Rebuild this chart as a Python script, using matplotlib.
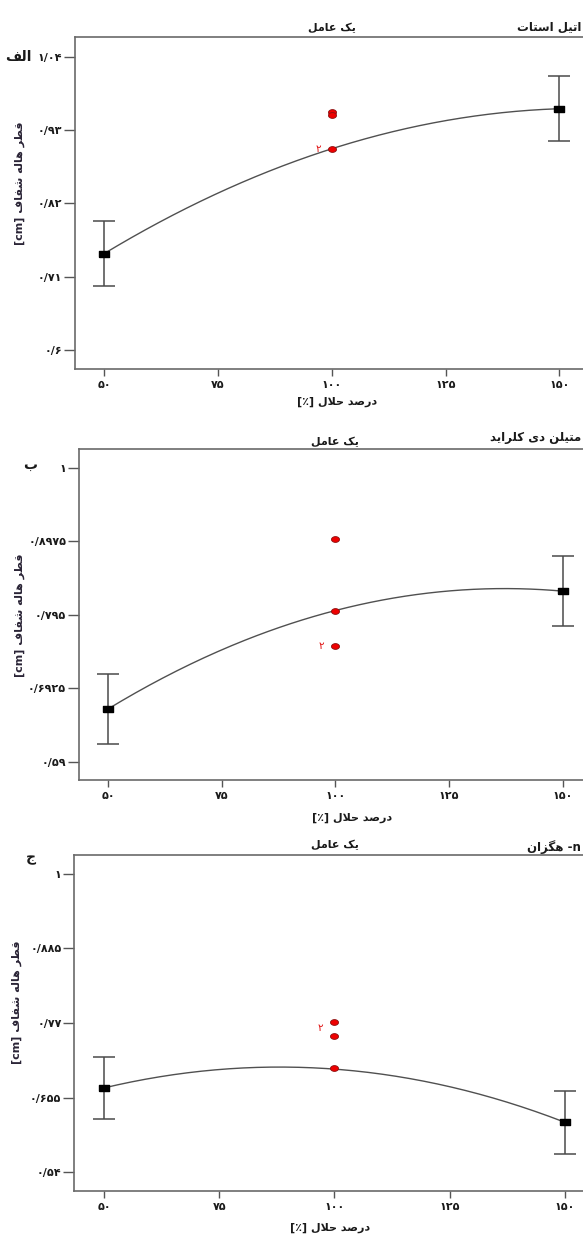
import numpy as np
import matplotlib
matplotlib.use("Agg")
import matplotlib.pyplot as plt
from matplotlib.transforms import blended_transform_factory

plt.rcParams['font.family'] = ['DejaVu Sans']

# ---------------------------------------------------------------------------
# Data: clear-zone diameter (cm) vs. solvent percentage, one-factor plots
# ---------------------------------------------------------------------------
solvent_levels = [50, 100, 150]
end_levels = [50, 150]
x_ticks = [50, 75, 100, 125, 150]
x_tick_labels = ['۵۰', '۷۵', '۱۰۰', '۱۲۵', '۱۵۰']

# (a) ethyl acetate
ea_pred = [0.745, 0.902, 0.962]          # model prediction at 50, 100, 150
ea_ci = [0.049, 0.049]                   # half-width of interval at 50, 150
ea_center_runs = [0.957, 0.952, 0.902]   # centre-point observations
ea_center_counts = [1, 1, 2]
ea_yticks = [1.04, 0.93, 0.82, 0.71, 0.60]
ea_yticklabels = ['۱/۰۴', '۰/۹۳', '۰/۸۲', '۰/۷۱', '۰/۶']

# (b) methylene chloride
mc_pred = [0.664, 0.801, 0.828]
mc_ci = [0.049, 0.049]
mc_center_runs = [0.901, 0.801, 0.751]
mc_center_counts = [1, 1, 2]
mc_yticks = [1.0, 0.8975, 0.795, 0.6925, 0.59]
mc_yticklabels = ['۱', '۰/۸۹۷۵', '۰/۷۹۵', '۰/۶۹۲۵', '۰/۵۹']

# (c) n-hexane
hx_pred = [0.670, 0.699, 0.617]
hx_ci = [0.048, 0.049]
hx_center_runs = [0.771, 0.7505, 0.701]
hx_center_counts = [2, 1, 1]
hx_yticks = [1.0, 0.885, 0.77, 0.655, 0.54]
hx_yticklabels = ['۱', '۰/۸۸۵', '۰/۷۷', '۰/۶۵۵', '۰/۵۴']

solvent_names = ['اتیل استات', 'متیلن دی کلراید', 'n- هگزان']
panel_letters = ['الف', 'ب', 'ج']
factor_title = 'یک عامل'
y_title = 'قطر هاله شفاف [cm]'
x_title = 'درصد حلال [٪]'

# ---------------------------------------------------------------------------
# Minimal Persian shaping + right-to-left ordering for matplotlib text
# ---------------------------------------------------------------------------
FORMS = {  # isolated, final, initial, medial
    'ا': ('\uFE8D', '\uFE8E', None, None),
    'ب': ('\uFE8F', '\uFE90', '\uFE91', '\uFE92'),
    'ت': ('\uFE95', '\uFE96', '\uFE97', '\uFE98'),
    'ج': ('\uFE9D', '\uFE9E', '\uFE9F', '\uFEA0'),
    'ح': ('\uFEA1', '\uFEA2', '\uFEA3', '\uFEA4'),
    'د': ('\uFEA9', '\uFEAA', None, None),
    'ر': ('\uFEAD', '\uFEAE', None, None),
    'ز': ('\uFEAF', '\uFEB0', None, None),
    'س': ('\uFEB1', '\uFEB2', '\uFEB3', '\uFEB4'),
    'ش': ('\uFEB5', '\uFEB6', '\uFEB7', '\uFEB8'),
    'ص': ('\uFEB9', '\uFEBA', '\uFEBB', '\uFEBC'),
    'ط': ('\uFEC1', '\uFEC2', '\uFEC3', '\uFEC4'),
    'ع': ('\uFEC9', '\uFECA', '\uFECB', '\uFECC'),
    'ف': ('\uFED1', '\uFED2', '\uFED3', '\uFED4'),
    'ق': ('\uFED5', '\uFED6', '\uFED7', '\uFED8'),
    'ل': ('\uFEDD', '\uFEDE', '\uFEDF', '\uFEE0'),
    'م': ('\uFEE1', '\uFEE2', '\uFEE3', '\uFEE4'),
    'ن': ('\uFEE5', '\uFEE6', '\uFEE7', '\uFEE8'),
    'ه': ('\uFEE9', '\uFEEA', '\uFEEB', '\uFEEC'),
    'ک': ('\uFB8E', '\uFB8F', '\uFB90', '\uFB91'),
    'گ': ('\uFB92', '\uFB93', '\uFB94', '\uFB95'),
    'ی': ('\uFBFC', '\uFBFD', '\uFBFE', '\uFBFF'),
}
LAM_ALEF = ('\uFEFB', '\uFEFC')
LTR_CHARS = set('abcdefghijklmnopqrstuvwxyzABCDEFGHIJKLMNOPQRSTUVWXYZ'
                '0123456789۰۱۲۳۴۵۶۷۸۹./')
MIRROR = {'[': ']', ']': '[', '(': ')', ')': '('}


def shape(text):
    out, i, n = [], 0, len(text)
    prev_joins = False
    while i < n:
        c = text[i]
        if c not in FORMS:
            out.append(c)
            prev_joins = False
            i += 1
            continue
        nxt = text[i + 1] if i + 1 < n else ''
        if c == 'ل' and nxt == 'ا':
            out.append(LAM_ALEF[1] if prev_joins else LAM_ALEF[0])
            prev_joins = False
            i += 2
            continue
        iso, fin, ini, med = FORMS[c]
        next_joins = ini is not None and nxt in FORMS
        if prev_joins and next_joins:
            out.append(med)
        elif prev_joins:
            out.append(fin)
        elif next_joins:
            out.append(ini)
        else:
            out.append(iso)
        prev_joins = next_joins
        i += 1
    return ''.join(out)


def rtl(text):
    s = shape(text)[::-1]
    res, run = [], []
    for ch in s:
        if ch in LTR_CHARS:
            run.append(ch)
        else:
            res.extend(reversed(run))
            run = []
            res.append(MIRROR.get(ch, ch))
    res.extend(reversed(run))
    return ''.join(res)


# ---------------------------------------------------------------------------
# Layout (pixel geometry of each panel on a 583 x 1239 canvas)
# ---------------------------------------------------------------------------
W, H = 583, 1239
fig = plt.figure(figsize=(W / 100, H / 100), dpi=100)


def fx(px):
    return px / W


def fy(py):
    return 1 - py / H


panels = [
    dict(pred=ea_pred, ci=ea_ci, runs=ea_center_runs, counts=ea_center_counts,
         yticks=ea_yticks, yticklabels=ea_yticklabels,
         box=(74.7, 37.3, 583, 369), xlim=(43.5, 155.2), ylim=(0.572, 1.069),
         name_y=27, title_y=28, letter_xy=(18, 57),
         ylab_xy=(20, 183), xlab_xy=(337, 402), count_dy=0),
    dict(pred=mc_pred, ci=mc_ci, runs=mc_center_runs, counts=mc_center_counts,
         yticks=mc_yticks, yticklabels=mc_yticklabels,
         box=(78.7, 449, 583, 780.3), xlim=(43.5, 154.5), ylim=(0.5645, 1.026),
         name_y=438, title_y=442, letter_xy=(30, 465),
         ylab_xy=(20, 615), xlab_xy=(352, 818), count_dy=0),
    dict(pred=hx_pred, ci=hx_ci, runs=hx_center_runs, counts=hx_center_counts,
         yticks=hx_yticks, yticklabels=hx_yticklabels,
         box=(74, 854.7, 583, 1190.7), xlim=(43.5, 153.9), ylim=(0.5117, 1.0293),
         name_y=847, title_y=845, letter_xy=(31, 858),
         ylab_xy=(17, 1002), xlab_xy=(330, 1228), count_dy=-4),
]

ell = np.linspace(0, 2 * np.pi, 40)
ellipse_marker = np.column_stack([np.cos(ell), 0.72 * np.sin(ell)])
rect_marker = [(-1, -0.6), (1, -0.6), (1, 0.6), (-1, 0.6), (-1, -0.6)]

spine_col = '#6a6a6a'
text_kw = dict(fontweight='bold', color='#1a1a1a')

for i, p in enumerate(panels):
    x0, y0, x1, y1 = p['box']
    ax = fig.add_axes([fx(x0), fy(y1), fx(x1) - fx(x0), fy(y0) - fy(y1)])
    ax.set_xlim(*p['xlim'])
    ax.set_ylim(*p['ylim'])

    # fitted quadratic response through the model predictions
    coef = np.polyfit(solvent_levels, p['pred'], 2)
    xs = np.linspace(solvent_levels[0], solvent_levels[-1], 200)
    ax.plot(xs, np.polyval(coef, xs), color='#505050', lw=1.0, zorder=2)

    # interval bars and predicted means at the design ends
    end_means = [p['pred'][0], p['pred'][-1]]
    ax.errorbar(end_levels, end_means, yerr=p['ci'], fmt='none',
                ecolor='#4a4a4a', elinewidth=1.1, capsize=7.8, capthick=1.1,
                zorder=3)
    ax.plot(end_levels, end_means, linestyle='none', marker=rect_marker,
            markersize=7.7, color='black', zorder=4)

    # centre-point runs
    ax.plot([solvent_levels[1]] * len(p['runs']), p['runs'], linestyle='none',
            marker=ellipse_marker, markersize=5.8, markerfacecolor='#ee0000',
            markeredgecolor='#8a1010', markeredgewidth=0.6, zorder=5)
    for v, cnt in zip(p['runs'], p['counts']):
        if cnt > 1:
            ax.annotate('۲', xy=(solvent_levels[1], v), xytext=(-10, p['count_dy']),
                        textcoords='offset points', ha='center', va='center',
                        color='#e01010', fontsize=7.5)

    # axes styling
    for side in ('left', 'bottom', 'top'):
        ax.spines[side].set_color(spine_col)
        ax.spines[side].set_linewidth(1.2)
    ax.spines['right'].set_visible(False)
    ax.set_yticks(p['yticks'])
    ax.set_yticklabels(p['yticklabels'], fontweight='bold', fontsize=8)
    ax.set_xticks(x_ticks)
    ax.set_xticklabels(x_tick_labels, fontweight='bold', fontsize=8)
    ax.tick_params(axis='y', length=8, width=1.0, color='#555555', pad=1,
                   labelcolor='#1a1a1a')
    ax.tick_params(axis='x', length=5, width=1.0, color='#555555', pad=3,
                   labelcolor='#1a1a1a')

    # headings and axis titles
    tr = blended_transform_factory(ax.transData, fig.transFigure)
    ax.text(100, fy(p['title_y']), rtl(factor_title), transform=tr,
            ha='center', va='center', fontsize=8, **text_kw)
    fig.text(fx(581), fy(p['name_y']), rtl(solvent_names[i]),
             ha='right', va='center', fontsize=8.5, **text_kw)
    fig.text(fx(p['letter_xy'][0]), fy(p['letter_xy'][1]), rtl(panel_letters[i]),
             ha='center', va='center', fontsize=10, **text_kw)
    fig.text(fx(p['ylab_xy'][0]), fy(p['ylab_xy'][1]), rtl(y_title),
             rotation=90, ha='center', va='center', fontsize=8,
             fontweight='bold', color='#2a2436')
    fig.text(fx(p['xlab_xy'][0]), fy(p['xlab_xy'][1]), rtl(x_title),
             ha='center', va='center', fontsize=8, **text_kw)

fig.savefig('out.png', dpi=100, facecolor='white')
